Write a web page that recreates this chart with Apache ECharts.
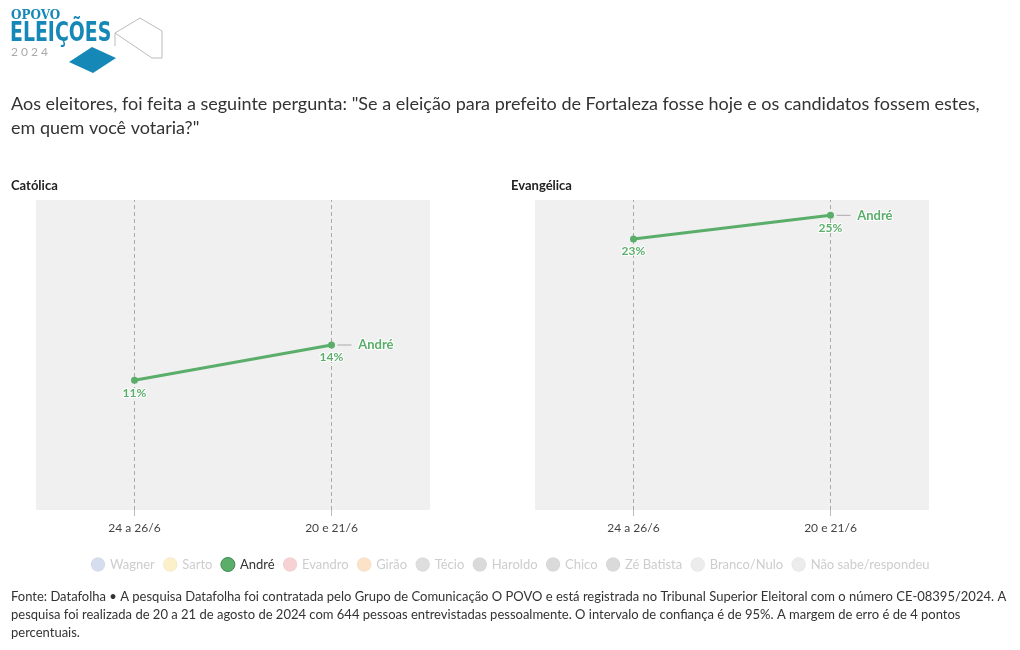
<!DOCTYPE html>
<html><head><meta charset="utf-8">
<script src="https://cdn.jsdelivr.net/npm/echarts@6/dist/echarts.min.js"></script>
<style>html,body{margin:0;padding:0;background:#fff}#c{width:1020px;height:650px}</style>
</head><body><div id="c"></div>
<script>
var categories = ['24 a 26/6', '20 e 21/6'];
var catolica = [11, 14];
var evangelica = [23, 25];
var legendNames = ['Wagner','Sarto','André','Evandro','Girão','Técio','Haroldo','Chico','Zé Batista','Branco/Nulo','Não sabe/respondeu'];
var legendColors = ['#d6ddee','#fcf0c9','#5aae6a','#f6d2d2','#fce2c6','#dedede','#dadada','#dadada','#dadada','#ececec','#ececec'];
var panelTitles = ['Católica', 'Evangélica'];
var titleText = 'Aos eleitores, foi feita a seguinte pergunta: "Se a eleição para prefeito de Fortaleza fosse hoje e os candidatos fossem estes,\nem quem você votaria?"';
var footerText = 'Fonte: Datafolha • A pesquisa Datafolha foi contratada pelo Grupo de Comunicação O POVO e está registrada no Tribunal Superior Eleitoral com o número CE-08395/2024. A\npesquisa foi realizada de 20 a 21 de agosto de 2024 com 644 pessoas entrevistadas pessoalmente. O intervalo de confiança é de 95%. A margem de erro é de 4 pontos\npercentuais.';

var FONT = 'Lato';
var GREEN = '#5aae6a';
var chart = echarts.init(document.getElementById('c'));

function xAxis(i){
  return {type:'category', gridIndex:i, data:categories, boundaryGap:true,
    axisLine:{show:false}, axisTick:{show:true, alignWithLabel:true, length:6, lineStyle:{color:'#bbb'}},
    axisLabel:{color:'#444', fontSize:12, fontFamily:FONT, margin:12},
    splitLine:{show:false}};
}
function yAxis(i){
  return {type:'value', gridIndex:i, min:0, max:26.3, show:false, splitLine:{show:false}};
}
function mainSeries(i, data){
  return {
    name:'André', type:'line', xAxisIndex:i, yAxisIndex:i, data:data,
    symbol:'circle', symbolSize:7, itemStyle:{color:GREEN},
    lineStyle:{color:GREEN, width:3},
    label:{show:true, position:'bottom', distance:3, formatter:'{c}%', color:GREEN, fontWeight:'bold',
      fontSize:12, fontFamily:FONT, textBorderColor:'#fff', textBorderWidth:2},
    endLabel:{show:true, distance:6, formatter:'{l|}  {t|André}',
      rich:{l:{width:14, height:1, backgroundColor:'#aaa'},
            t:{color:GREEN, fontWeight:'bold', fontSize:13, fontFamily:FONT, textBorderColor:'#fff', textBorderWidth:2}}},
    markLine:{silent:true, symbol:'none', label:{show:false},
      lineStyle:{color:'#aaa', type:[4,3], width:1},
      data:[{xAxis:categories[0]},{xAxis:categories[1]}]},
    z:5
  };
}
var series = [mainSeries(0, catolica), mainSeries(1, evangelica)];
legendNames.forEach(function(n, k){
  if (n !== 'André') series.push({name:n, type:'line', xAxisIndex:0, yAxisIndex:0, data:[], itemStyle:{color:legendColors[k]}});
});

var legendData = legendNames.map(function(n, k){
  var active = n === 'André';
  return {name:n, icon:'circle',
    itemStyle:{color:legendColors[k], borderColor: active ? '#3d8a4d' : 'rgba(0,0,0,0.04)', borderWidth:1},
    textStyle:{color: active ? '#333' : '#cdcdcd'}};
});

chart.setOption({
  animation:false,
  backgroundColor:'#fff',
  grid:[
    {left:36, top:200, width:394, height:310, show:true, backgroundColor:'#f0f0f0', borderWidth:0},
    {left:535, top:200, width:394, height:310, show:true, backgroundColor:'#f0f0f0', borderWidth:0}
  ],
  xAxis:[xAxis(0), xAxis(1)],
  yAxis:[yAxis(0), yAxis(1)],
  legend:{data:legendData, top:552, left:'center', itemWidth:14, itemHeight:14, itemGap:8,
    textStyle:{fontSize:13, fontFamily:FONT}, selectedMode:false},
  series:series,
  graphic:[
    {type:'text', left:11, top:10, style:{text:'OPOVO', fontSize:12, fontWeight:'bold', fontFamily:'DejaVu Serif', fill:'#1588b8'}},
    {type:'text', x:10, y:21, scaleY:1.25, style:{text:'ELEIÇÕES', fontSize:21, fontWeight:'bold', fontFamily:'Liberation Sans Narrow, DejaVu Sans Condensed', fill:'#1588b8'}},
    {type:'text', left:11, top:46, style:{text:'2 0 2 4', fontSize:12, fontFamily:FONT, fill:'#aaa'}},
    {type:'polygon', shape:{points:[[69,62],[92,47],[116,58],[93,73]]}, style:{fill:'#1588b8'}},
    {type:'polyline', shape:{points:[[115,33],[140,18],[162,31],[162,58],[152,58],[115,33],[115,46]]}, style:{stroke:'#bbb', fill:null, lineWidth:1}},
    {type:'text', left:11, top:92, style:{text:titleText, fontSize:18, fontFamily:FONT, fill:'#333', lineHeight:24}},
    {type:'text', left:11, top:179, style:{text:panelTitles[0], fontSize:13, fontWeight:'bold', fontFamily:FONT, fill:'#222'}},
    {type:'text', left:511, top:179, style:{text:panelTitles[1], fontSize:13, fontWeight:'bold', fontFamily:FONT, fill:'#222'}},
    {type:'text', left:11, top:588, style:{text:footerText, fontSize:13, fontFamily:FONT, fill:'#333', lineHeight:18}}
  ]
});
</script></body></html>
